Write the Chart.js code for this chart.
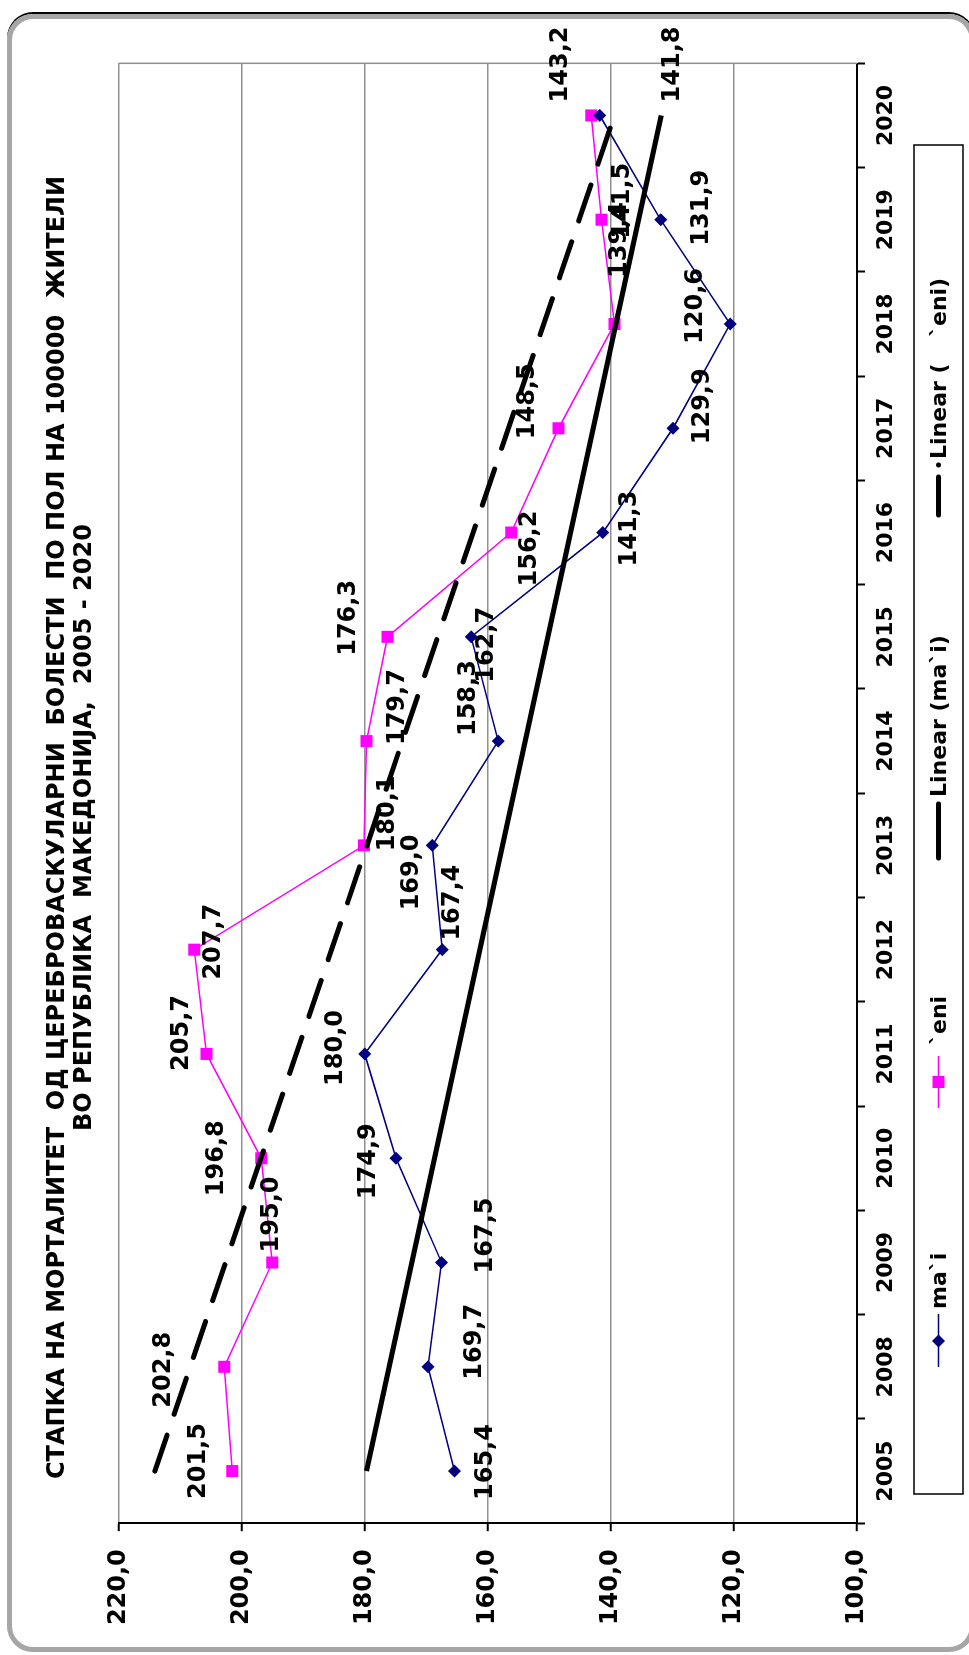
<!DOCTYPE html>
<html>
<head>
<meta charset="utf-8">
<script src="https://cdn.jsdelivr.net/npm/chart.js@4.4.1/dist/chart.umd.min.js"></script>
<style>
body{margin:0;background:#fff;overflow:hidden}
#page{position:relative;width:969px;height:1655px;overflow:hidden;background:#fff}
#stage{position:absolute;left:0;top:0;width:1655px;height:969px;transform-origin:0 0;transform:translate(0,1655px) rotate(-90deg)}
#stage canvas{position:absolute;left:0;top:0}
#over{position:absolute;left:0;top:0;pointer-events:none}
#over text{font-family:"DejaVu Sans";font-weight:bold;font-size:22px;fill:#000}
#over text.ttl{font-size:24px}
#frame{position:absolute;left:3px;top:7px;width:1638px;height:968px;box-sizing:border-box;border:5px solid #a6a6a6;border-radius:26px;box-shadow:2px 0 0 #000;pointer-events:none}
</style>
</head>
<body>
<div id="page">
 <div id="stage">
  <canvas id="chart" width="1655" height="969"></canvas>
  <svg id="over" width="1655" height="969" xmlns="http://www.w3.org/2000/svg">
   <text class="ttl" x="827.5" y="56" text-anchor="middle" dominant-baseline="central" xml:space="preserve">СТАПКА НА МОРТАЛИТЕТ  ОД ЦЕРЕБРОВАСКУЛАРНИ  БОЛЕСТИ  ПО ПОЛ НА 100000  ЖИТЕЛИ</text>
   <text class="ttl" x="827.5" y="83" text-anchor="middle" dominant-baseline="central" xml:space="preserve">ВО РЕПУБЛИКА  МАКЕДОНИЈА,  2005 - 2020</text>
   <rect x="161" y="914" width="1349" height="49" fill="#fff" stroke="#000" stroke-width="1.5"/>
   <line x1="288" y1="938.5" x2="341" y2="938.5" stroke="#000080" stroke-width="1.5"/>
   <path d="M314 932 L320.5 938.5 L314 945 L307.5 938.5 Z" fill="#000080"/>
   <text x="346" y="938.5" dominant-baseline="central">ma`i</text>
   <line x1="547" y1="938.5" x2="599" y2="938.5" stroke="#ff00ff" stroke-width="1.5"/>
   <rect x="567" y="932.5" width="12" height="12" fill="#ff00ff"/>
   <text x="610" y="938.5" dominant-baseline="central">`eni</text>
   <line x1="797" y1="938.5" x2="851" y2="938.5" stroke="#000" stroke-width="5" stroke-linecap="round"/>
   <text x="858" y="938.5" dominant-baseline="central">Linear (ma`i)</text>
   <line x1="1140" y1="938.5" x2="1178" y2="938.5" stroke="#000" stroke-width="5" stroke-linecap="round"/>
   <circle cx="1190" cy="938.5" r="2.5" fill="#000"/>
   <text x="1196" y="938.5" dominant-baseline="central">Linear (</text>
   <text x="1318" y="938.5" dominant-baseline="central">`eni)</text>
  </svg>
  <div id="frame"></div>
 </div>
</div>
<script>
const years = ['2005','2008','2009','2010','2011','2012','2013','2014','2015','2016','2017','2018','2019','2020'];
const maleRates = [165.4,169.7,167.5,174.9,180.0,167.4,169.0,158.3,162.7,141.3,129.9,120.6,131.9,141.8];
const femaleRates = [201.5,202.8,195.0,196.8,205.7,207.7,180.1,179.7,176.3,156.2,148.5,139.4,141.5,143.2];
// trendline ends (first year, last year)
const maleTrendEnds = [179.7,131.8];
const femaleTrendEnds = [214.1,139.4];
const yMin = 100, yMax = 220, yStep = 20;

// nudges for the value labels (px), placed by hand like in the original
const maleLabelShift = [[9,31],[25,47],[27,44],[-3,-27],[6,-29],[47,11],[-27,-21],[43,-29],[-8,16],[4,27],[22,30],[18,-34],[12,41],[51,73]];
const femaleLabelShift = [[10,-34],[-3,-61],[48,-1],[0,-45],[21,-25],[8,20],[32,24],[34,31],[19,-39],[-16,19],[27,-31],[84,5],[19,21],[51,-30]];

function trend(ends){
  return years.map((y,i)=> i===0 ? ends[0] : (i===years.length-1 ? ends[1] : null));
}
function fmt(v){ return v.toFixed(1).replace('.', ','); }

const valueLabels = {
  id:'valueLabels',
  afterDatasetsDraw(chart){
    const ctx = chart.ctx;
    ctx.save();
    ctx.font = 'bold 24px "DejaVu Sans"';
    ctx.fillStyle = '#000';
    ctx.textAlign = 'center';
    ctx.textBaseline = 'middle';
    [[2,maleRates,maleLabelShift],[3,femaleRates,femaleLabelShift]].forEach(([di,vals,shift])=>{
      chart.getDatasetMeta(di).data.forEach((pt,i)=>{
        ctx.fillText(fmt(vals[i]), pt.x+shift[i][0], pt.y+shift[i][1]);
      });
    });
    ctx.restore();
  }
};

const plotEdge = {
  id:'plotEdge',
  beforeDatasetsDraw(chart){
    const a = chart.chartArea, ctx = chart.ctx;
    ctx.save();
    ctx.strokeStyle = '#909090';
    ctx.lineWidth = 1.5;
    ctx.beginPath();
    ctx.moveTo(a.right, a.top);
    ctx.lineTo(a.right, a.bottom);
    ctx.stroke();
    ctx.restore();
  }
};

new Chart(document.getElementById('chart'), {
  type:'line',
  data:{
    labels:years,
    datasets:[
      {label:'Linear (ma`i)', data:trend(maleTrendEnds), borderColor:'#000', borderWidth:5, pointRadius:0, spanGaps:true, order:0},
      {label:'Linear (`eni)', data:trend(femaleTrendEnds), borderColor:'#000', borderWidth:5, borderDash:[38,22], borderCapStyle:'round', pointRadius:0, spanGaps:true, order:0},
      {label:'ma`i', data:maleRates, borderColor:'#000080', backgroundColor:'#000080', borderWidth:1.5, pointStyle:'rectRot', pointRadius:6.5, pointBorderWidth:0, order:1},
      {label:'`eni', data:femaleRates, borderColor:'#ff00ff', backgroundColor:'#ff00ff', borderWidth:1.5, pointStyle:'rect', pointRadius:8.5, pointBorderWidth:0, order:1}
    ]
  },
  options:{
    responsive:false,
    animation:false,
    devicePixelRatio:1,
    layout:{padding:{left:0, top:118.5, right:63.3, bottom:0}},
    plugins:{legend:{display:false}, title:{display:false}, tooltip:{enabled:false}},
    scales:{
      x:{
        offset:true,
        grid:{offset:true, drawOnChartArea:false, drawTicks:true, tickLength:8, tickColor:'#000', tickWidth:2},
        border:{color:'#000', width:2},
        ticks:{font:{family:'DejaVu Sans', weight:'bold', size:22}, color:'#000', padding:8, maxRotation:0, autoSkip:false},
        afterFit(s){ s.height = 112; }
      },
      y:{
        min:yMin, max:yMax,
        grid:{color:'#909090', lineWidth:1.5, tickLength:8, tickColor:'#000', tickWidth:2},
        border:{color:'#000', width:2},
        ticks:{stepSize:yStep, font:{family:'DejaVu Sans', weight:'bold', size:24}, color:'#000', padding:18, callback:v=>fmt(v)},
        afterFit(s){ s.width = 131.8; }
      }
    }
  },
  plugins:[plotEdge, valueLabels]
});
</script>
</body>
</html>
